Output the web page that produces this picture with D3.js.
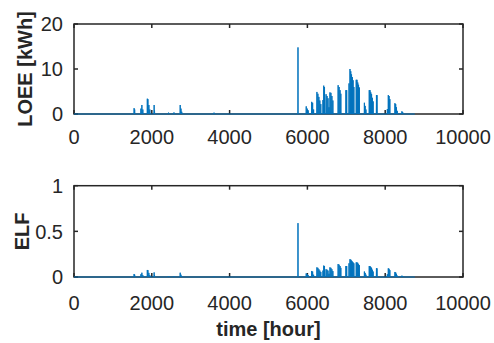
<!DOCTYPE html>
<html>
<head>
<meta charset="utf-8">
<script src="https://cdnjs.cloudflare.com/ajax/libs/d3/7.8.5/d3.min.js"></script>
<style>
  body { margin: 0; background: #fff; }
  svg text { font-family: "Liberation Sans", Arial, sans-serif; fill: #262626; }
</style>
</head>
<body>
<script>
// hourly loss events, zero everywhere else
var spikeHours = [1545, 1560, 1720, 1745, 1770, 1885, 1900, 1925, 1950, 2060, 2070, 2430, 2570, 2730, 2750, 2770, 3600,
  5758, 5970, 5995, 6020, 6110, 6135, 6160, 6245, 6270, 6295, 6320, 6345, 6400, 6420, 6440, 6480, 6505, 6530, 6555,
  6580, 6605, 6630, 6655, 6790, 6815, 6840, 6860, 6990, 7010, 7070, 7095, 7115, 7135, 7155, 7175, 7195,
  7255, 7275, 7295, 7315, 7335, 7465, 7485, 7505, 7590, 7610, 7630, 7650, 7670, 7690, 7775, 7790,
  8055, 8080, 8100, 8120, 8250, 8270, 8290, 8310, 8430, 8450];
var loeeValues = [1.3, 1.0, 1.2, 2.0, 1.0, 3.4, 3.3, 2.0, 1.0, 2.0, 0.8, 0.3, 0.35, 2.0, 1.2, 0.5, 0.3,
  14.8, 1.7, 1.2, 0.8, 2.7, 2.5, 1.0, 4.9, 4.5, 3.8, 3.0, 2.2, 3.1, 6.3, 6.0, 4.4, 4.0, 3.5, 1.5,
  4.8, 4.7, 4.0, 3.0, 6.4, 6.0, 5.3, 4.5, 5.3, 5.3, 6.8, 10.0, 9.5, 8.8, 8.2, 7.5, 6.0,
  7.6, 7.6, 7.0, 6.5, 5.9, 2.5, 1.8, 1.0, 5.3, 5.3, 4.8, 4.4, 3.6, 2.8, 4.2, 4.2,
  1.1, 4.2, 4.0, 3.3, 2.4, 2.2, 1.5, 0.7, 0.6, 0.4];
var elfValues = [0.033, 0.025, 0.03, 0.047, 0.02, 0.077, 0.075, 0.045, 0.02, 0.05, 0.02, 0.01, 0.01, 0.047, 0.025, 0.01, 0.008,
  0.59, 0.04, 0.03, 0.02, 0.066, 0.06, 0.025, 0.106, 0.1, 0.085, 0.07, 0.055, 0.07, 0.125, 0.12, 0.085, 0.08, 0.07, 0.035,
  0.106, 0.1, 0.085, 0.065, 0.142, 0.135, 0.12, 0.1, 0.12, 0.12, 0.15, 0.195, 0.19, 0.18, 0.17, 0.16, 0.15,
  0.16, 0.16, 0.155, 0.14, 0.13, 0.06, 0.045, 0.025, 0.12, 0.12, 0.11, 0.1, 0.08, 0.06, 0.095, 0.095,
  0.03, 0.095, 0.09, 0.075, 0.055, 0.05, 0.035, 0.015, 0.015, 0.01];
var lastHour = 8760;
var xTicks = [0, 2000, 4000, 6000, 8000, 10000];
var loeeTicks = [0, 10, 20];
var elfTicks = [0, 0.5, 1];

var width = 494, height = 343;
var left = 74, right = 463;
var axisColor = "#262626", lineColor = "#0072bd";

var svg = d3.select("body").append("svg")
    .attr("width", width)
    .attr("height", height);

var x = d3.scaleLinear().domain([0, 10000]).range([left, right]);

var panels = [
  { top: 24, bottom: 114, max: 20, ticks: loeeTicks, values: loeeValues, label: "LOEE [kWh]", labelX: 32, tickLabelY: 143.5 },
  { top: 185.7, bottom: 277, max: 1, ticks: elfTicks, values: elfValues, label: "ELF", labelX: 28.5, tickLabelY: 309.5 }
];

panels.forEach(function(p) {
  var y = d3.scaleLinear().domain([0, p.max]).range([p.bottom, p.top]);
  var g = svg.append("g");

  // build series: zero baseline with narrow peaks
  var pts = [[0, 0]];
  spikeHours.forEach(function(h, i) {
    pts.push([h - 4, 0], [h, p.values[i]], [h + 4, 0]);
  });
  pts.push([lastHour, 0]);

  // box
  g.append("rect")
    .attr("x", left).attr("y", p.top)
    .attr("width", right - left).attr("height", p.bottom - p.top)
    .attr("fill", "none")
    .attr("stroke", axisColor)
    .attr("stroke-width", 1.5);

  // inward ticks on all four sides
  var tl = 4;
  xTicks.forEach(function(t) {
    g.append("line").attr("x1", x(t)).attr("x2", x(t)).attr("y1", p.bottom).attr("y2", p.bottom - tl)
      .attr("stroke", axisColor).attr("stroke-width", 1.5);
    g.append("line").attr("x1", x(t)).attr("x2", x(t)).attr("y1", p.top).attr("y2", p.top + tl)
      .attr("stroke", axisColor).attr("stroke-width", 1.5);
    g.append("text")
      .attr("x", x(t)).attr("y", p.tickLabelY)
      .attr("text-anchor", "middle")
      .style("font-size", "20px")
      .text(t);
  });
  p.ticks.forEach(function(t) {
    g.append("line").attr("x1", left).attr("x2", left + tl).attr("y1", y(t)).attr("y2", y(t))
      .attr("stroke", axisColor).attr("stroke-width", 1.5);
    g.append("line").attr("x1", right).attr("x2", right - tl).attr("y1", y(t)).attr("y2", y(t))
      .attr("stroke", axisColor).attr("stroke-width", 1.5);
    g.append("text")
      .attr("x", 63).attr("y", y(t))
      .attr("dy", "0.36em")
      .attr("text-anchor", "end")
      .style("font-size", "20px")
      .text(t);
  });

  var line = d3.line()
    .x(function(d) { return x(d[0]); })
    .y(function(d) { return y(d[1]); });

  g.append("path")
    .datum(pts)
    .attr("d", line)
    .attr("fill", "none")
    .attr("stroke", lineColor)
    .attr("stroke-width", 1);

  g.append("text")
    .attr("transform", "translate(" + p.labelX + "," + ((p.top + p.bottom) / 2) + ") rotate(-90)")
    .attr("text-anchor", "middle")
    .style("font-size", "20px")
    .style("font-weight", "bold")
    .text(p.label);
});

svg.append("text")
  .attr("x", (left + right) / 2)
  .attr("y", 336)
  .attr("text-anchor", "middle")
  .style("font-size", "20px")
  .style("font-weight", "bold")
  .text("time [hour]");
</script>
</body>
</html>
